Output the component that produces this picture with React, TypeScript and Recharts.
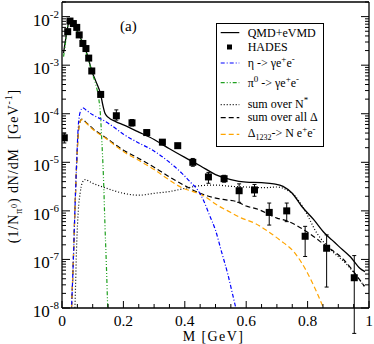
import { ComposedChart, Line, Scatter, ErrorBar, XAxis, YAxis, Legend } from "recharts";

const serif = "Liberation Serif, Times New Roman, serif";

// HADES points
const hadesMass = [0.0075, 0.0186, 0.026, 0.037, 0.048, 0.056, 0.068, 0.078, 0.087, 0.097, 0.126, 0.177, 0.228, 0.276, 0.327, 0.377, 0.426, 0.477, 0.528, 0.577, 0.627, 0.675, 0.732, 0.792, 0.862, 0.952];
const hadesYield = [3.2e-5, 4.9e-3, 8.1e-3, 7.2e-3, 6.0e-3, 4.2e-3, 2.8e-3, 2.2e-3, 1.4e-3, 7.6e-4, 2.5e-4, 9.1e-5, 6.5e-5, 4.1e-5, 2.6e-5, 2.2e-5, 1.0e-5, 5.0e-6, 4.6e-6, 2.6e-6, 2.7e-6, 9.3e-7, 1.0e-6, 3.0e-7, 1.7e-7, 4.2e-8];
const hadesHigh = [4.0e-5, 5.2e-3, 8.6e-3, 7.6e-3, 6.3e-3, 4.4e-3, 2.95e-3, 2.3e-3, 1.5e-3, 8.1e-4, 2.8e-4, 1.2e-4, 7.6e-5, 4.6e-5, 2.9e-5, 2.45e-5, 1.2e-5, 6.2e-6, 5.4e-6, 3.6e-6, 3.5e-6, 1.45e-6, 1.45e-6, 4.8e-7, 3.2e-7, 1.2e-7];
const hadesLow = [2.5e-5, 4.6e-3, 7.6e-3, 6.8e-3, 5.7e-3, 4.0e-3, 2.65e-3, 2.1e-3, 1.3e-3, 7.1e-4, 2.25e-4, 7.4e-5, 5.6e-5, 3.7e-5, 2.3e-5, 1.95e-5, 8.3e-6, 3.7e-6, 3.9e-6, 1.5e-6, 2.0e-6, 5.1e-7, 6.0e-7, 1.15e-7, 2.7e-8, 3.0e-9];

// QMD+eVMD total
const qmdMass = [0.005, 0.015, 0.022, 0.027, 0.035, 0.045, 0.055, 0.065, 0.075, 0.085, 0.097, 0.11, 0.126, 0.133, 0.14, 0.15, 0.175, 0.2, 0.25, 0.3, 0.35, 0.4, 0.45, 0.5, 0.55, 0.6, 0.65, 0.69, 0.72, 0.75, 0.78, 0.82, 0.855, 0.88, 0.9, 0.94, 0.97, 0.987];
const qmdYield = [1.78e-3, 4.47e-3, 7.6e-3, 8.1e-3, 7.2e-3, 6.0e-3, 4.2e-3, 3.2e-3, 2.24e-3, 1.45e-3, 7.6e-4, 4.7e-4, 2.5e-4, 1.5e-4, 1.02e-4, 8.5e-5, 6.9e-5, 5.9e-5, 4.2e-5, 2.95e-5, 1.9e-5, 1.26e-5, 8.5e-6, 5.6e-6, 4.4e-6, 3.9e-6, 3.8e-6, 3.6e-6, 3.2e-6, 2.3e-6, 1.26e-6, 6.6e-7, 3.5e-7, 2.5e-7, 1.9e-7, 1.12e-7, 6.6e-8, 5.6e-8];

// eta -> gamma e+ e-
const etaMass = [0.029, 0.031, 0.037, 0.042, 0.048, 0.053, 0.06, 0.068, 0.08, 0.1, 0.13, 0.16, 0.2, 0.25, 0.29, 0.35, 0.39, 0.42, 0.44, 0.46, 0.48, 0.5, 0.52, 0.54, 0.555, 0.568];
const etaYield = [5e-9, 1e-8, 1e-7, 1e-6, 1.12e-5, 5.5e-5, 1.12e-4, 1.32e-4, 1.17e-4, 9.5e-5, 7.6e-5, 5.8e-5, 3.8e-5, 2.5e-5, 1.86e-5, 1.0e-5, 6.0e-6, 3.8e-6, 2.8e-6, 1.7e-6, 8.3e-7, 4.0e-7, 1.41e-7, 5.0e-8, 2.0e-8, 8.9e-9];

// pi0 -> gamma e+ e-
const pi0Mass = [0.005, 0.01, 0.015, 0.022, 0.027, 0.035, 0.045, 0.055, 0.065, 0.075, 0.085, 0.097, 0.11, 0.12, 0.125, 0.129, 0.135, 0.14, 0.145, 0.149, 0.151];
const pi0Yield = [1.5e-3, 2.5e-3, 4.5e-3, 7.4e-3, 7.9e-3, 7.1e-3, 5.9e-3, 4.1e-3, 3.0e-3, 2.1e-3, 1.38e-3, 7.2e-4, 4.0e-4, 2.0e-4, 1.0e-4, 3.4e-5, 5.0e-6, 5.0e-7, 6.3e-8, 1.0e-8, 5.0e-9];

// sum over N*
const nstarMass = [0.04, 0.042, 0.048, 0.053, 0.059, 0.066, 0.075, 0.1, 0.14, 0.2, 0.25, 0.3, 0.35, 0.4, 0.45, 0.5, 0.55, 0.6, 0.66, 0.7, 0.73, 0.76, 0.79, 0.83, 0.875, 0.93, 0.96, 0.985];
const nstarYield = [5e-9, 1e-8, 2.2e-7, 1.0e-6, 2.3e-6, 3.8e-6, 4.4e-6, 3.7e-6, 3.0e-6, 2.3e-6, 2.1e-6, 2.3e-6, 2.5e-6, 2.9e-6, 3.3e-6, 3.4e-6, 3.2e-6, 3.1e-6, 3.0e-6, 3.1e-6, 2.75e-6, 2.0e-6, 1.05e-6, 3.5e-7, 1.6e-7, 7.6e-8, 4.5e-8, 2.8e-8];

// sum over all Delta
const deltaAllMass = [0.029, 0.031, 0.037, 0.042, 0.048, 0.053, 0.06, 0.065, 0.08, 0.1, 0.14, 0.2, 0.25, 0.3, 0.35, 0.4, 0.45, 0.49, 0.53, 0.565, 0.6, 0.64, 0.7, 0.73, 0.79, 0.855, 0.92, 0.97, 0.985];
const deltaAllYield = [5e-9, 1e-8, 1e-7, 1e-6, 1.0e-5, 4.0e-5, 7.2e-5, 7.8e-5, 6.5e-5, 5.0e-5, 3.3e-5, 1.78e-5, 1.2e-5, 7.9e-6, 5.0e-6, 3.3e-6, 2.3e-6, 1.9e-6, 1.7e-6, 1.58e-6, 1.26e-6, 1.07e-6, 7.1e-7, 6.3e-7, 4.0e-7, 2.0e-7, 9.5e-8, 3.8e-8, 2.8e-8];

// Delta(1232) -> N e+ e-
const delta1232Mass = [0.029, 0.031, 0.037, 0.042, 0.048, 0.053, 0.06, 0.065, 0.08, 0.1, 0.14, 0.2, 0.25, 0.3, 0.35, 0.39, 0.435, 0.47, 0.5, 0.54, 0.585, 0.63, 0.67, 0.71, 0.76, 0.8, 0.83, 0.855];
const delta1232Yield = [5e-9, 1e-8, 1e-7, 1e-6, 1.0e-5, 4.0e-5, 7.1e-5, 7.6e-5, 6.3e-5, 4.8e-5, 3.2e-5, 1.66e-5, 1.1e-5, 7.1e-6, 4.3e-6, 3.0e-6, 2.4e-6, 1.9e-6, 1.38e-6, 1.0e-6, 7.1e-7, 5.5e-7, 3.8e-7, 2.5e-7, 1.32e-7, 5.2e-8, 2.1e-8, 8.9e-9];

const xTicks = [0, 0.05, 0.1, 0.15, 0.2, 0.25, 0.3, 0.35, 0.4, 0.45, 0.5, 0.55, 0.6, 0.65, 0.7, 0.75, 0.8, 0.85, 0.9, 0.95, 1];
const yDecades = [1e-8, 1e-7, 1e-6, 1e-5, 1e-4, 1e-3, 1e-2];
const yMax = 0.02;

const yTicks: number[] = [];
yDecades.forEach((d) => {
  [1, 2, 3, 4, 5, 6, 7, 8, 9].forEach((m) => {
    if (m * d <= yMax * 1.0001) yTicks.push(m * d);
  });
});

const toPoints = (xs: number[], ys: number[]) => xs.map((x, i) => ({ x, y: ys[i] }));
const hadesData = hadesMass.map((x, i) => ({
  x,
  y: hadesYield[i],
  err: [hadesYield[i] - hadesLow[i], hadesHigh[i] - hadesYield[i]],
}));

const isDecade = (v: number) => Math.abs(Math.log10(v) - Math.round(Math.log10(v))) < 1e-6;
const isMajorX = (v: number) => Math.abs(v * 5 - Math.round(v * 5)) < 1e-6;

function LeftTick({ x, y, payload }: any) {
  const v = payload.value;
  const major = isDecade(v);
  return (
    <g>
      <line x1={x} x2={x + (major ? 8 : 4)} y1={y} y2={y} stroke="#000" />
      {major && (
        <text x={x - 3} y={y + 9} textAnchor="end" fontFamily={serif} fontSize={17} fill="#000">
          10<tspan dy={-8} fontSize={11}>{Math.round(Math.log10(v))}</tspan>
        </text>
      )}
    </g>
  );
}

function RightTick({ x, y, payload }: any) {
  const major = isDecade(payload.value);
  return <line x1={x} x2={x - (major ? 8 : 4)} y1={y} y2={y} stroke="#000" />;
}

function BottomTick({ x, y, payload }: any) {
  const v = payload.value;
  const major = isMajorX(v);
  return (
    <g>
      <line x1={x} x2={x} y1={y} y2={y - (major ? 7 : 4)} stroke="#000" />
      {major && (
        <text x={x} y={y + 17.5} textAnchor="middle" fontFamily={serif} fontSize={15.5} fill="#000">
          {v === 0 || v === 1 ? String(v) : v.toFixed(1)}
        </text>
      )}
    </g>
  );
}

function TopTick({ x, y, payload }: any) {
  const major = isMajorX(payload.value);
  return <line x1={x} x2={x} y1={y} y2={y + (major ? 7 : 4)} stroke="#000" />;
}

function XTitle({ viewBox }: any) {
  const { x, y, width } = viewBox;
  return (
    <text x={x + width / 2 - 2} y={y + 33} textAnchor="middle" fontFamily={serif} fontSize={14} letterSpacing={1.4} fill="#000">
      M [GeV]
    </text>
  );
}

function YTitle() {
  return (
    <text transform="translate(18,166) rotate(-90)" textAnchor="middle" fontFamily={serif} fontSize={14} letterSpacing={0.9} fill="#000">
      (1/N<tspan dy={4} fontSize={10}>π</tspan>
      <tspan dy={-5} fontSize={8}>0</tspan>
      <tspan dy={1}>) dN/dM{"\u00a0\u00a0"}[GeV</tspan>
      <tspan dy={-6} fontSize={10}>-1</tspan>
      <tspan dy={6}>]</tspan>
    </text>
  );
}

const legendRows = [
  { kind: "line", stroke: "#000", dash: undefined, lineY: 9.6, textY: 14 },
  { kind: "marker", stroke: "#000", dash: undefined, lineY: 24, textY: 28 },
  { kind: "line", stroke: "#0000ff", dash: "4 2 1 2", lineY: 40, textY: 43.5 },
  { kind: "line", stroke: "#1fa01f", dash: "4 2 1 2 1 2", lineY: 59.6, textY: 63.5 },
  { kind: "line", stroke: "#000", dash: "1 2", lineY: 81.6, textY: 85 },
  { kind: "line", stroke: "#000", dash: "5 3", lineY: 94.6, textY: 98 },
  { kind: "line", stroke: "#ffa500", dash: "5 3", lineY: 111.3, textY: 114 },
];

function LegendLabel({ i }: { i: number }) {
  const sup = { dy: -5, fontSize: 9 };
  switch (i) {
    case 0:
      return <>QMD+eVMD</>;
    case 1:
      return <>HADES</>;
    case 2:
      return (
        <>
          η -&gt; γe<tspan {...sup}>+</tspan>
          <tspan dy={5}>e</tspan>
          <tspan {...sup}>-</tspan>
        </>
      );
    case 3:
      return (
        <>
          π<tspan {...sup}>0</tspan>
          <tspan dy={5}> -&gt; γe</tspan>
          <tspan {...sup}>+</tspan>
          <tspan dy={5}>e</tspan>
          <tspan {...sup}>-</tspan>
        </>
      );
    case 4:
      return (
        <>
          sum over N<tspan {...sup}>*</tspan>
        </>
      );
    case 5:
      return <>sum over all Δ</>;
    default:
      return (
        <>
          Δ<tspan dy={3} fontSize={8}>1232</tspan>
          <tspan dy={-3}>-&gt; N e</tspan>
          <tspan {...sup}>+</tspan>
          <tspan dy={5}>e</tspan>
          <tspan {...sup}>-</tspan>
        </>
      );
  }
}

function LegendBox() {
  return (
    <svg width={108} height={124} style={{ display: "block" }}>
      <rect x={0.5} y={0.5} width={107} height={123} fill="#fff" stroke="#000" />
      {legendRows.map((r, i) => (
        <g key={i}>
          {r.kind === "line" ? (
            <line x1={4.7} x2={23.3} y1={r.lineY} y2={r.lineY} stroke={r.stroke} strokeWidth={1.2} strokeDasharray={r.dash} />
          ) : (
            <rect x={11} y={r.lineY - 2.5} width={5} height={5} fill="#000" />
          )}
          <text x={31.7} y={r.textY} fontFamily={serif} fontSize={12} fill="#000">
            <LegendLabel i={i} />
          </text>
        </g>
      ))}
    </svg>
  );
}

const Square = ({ cx, cy }: any) => <rect x={cx - 3.5} y={cy - 3.5} width={7} height={7} fill="#000" />;

export default function App() {
  return (
    <div style={{ position: "absolute", left: 0, top: 0, width: 374, height: 344, background: "#fff" }}>
      <ComposedChart width={374} height={344} margin={{ top: 0, right: 0, bottom: 0, left: 0 }}>
        <XAxis
          type="number"
          dataKey="x"
          domain={[0, 1]}
          allowDataOverflow
          ticks={xTicks}
          interval={0}
          height={36}
          tickSize={0}
          tickMargin={0}
          tick={<BottomTick />}
          axisLine={{ stroke: "#000", strokeWidth: 1.3 }}
          label={<XTitle />}
        />
        <XAxis
          xAxisId="top"
          orientation="top"
          type="number"
          domain={[0, 1]}
          allowDataOverflow
          ticks={xTicks}
          interval={0}
          height={2}
          tickSize={0}
          tickMargin={0}
          tick={<TopTick />}
          axisLine={{ stroke: "#000", strokeWidth: 1.3 }}
        />
        <YAxis
          type="number"
          scale="log"
          domain={[1e-8, yMax]}
          allowDataOverflow
          ticks={yTicks}
          interval={0}
          width={62}
          tickSize={0}
          tickMargin={0}
          tick={<LeftTick />}
          axisLine={{ stroke: "#000", strokeWidth: 1.3 }}
          label={<YTitle />}
        />
        <YAxis
          yAxisId="right"
          orientation="right"
          type="number"
          scale="log"
          domain={[1e-8, yMax]}
          allowDataOverflow
          ticks={yTicks}
          interval={0}
          width={5}
          tickSize={0}
          tickMargin={0}
          tick={<RightTick />}
          axisLine={{ stroke: "#000", strokeWidth: 1.3 }}
        />
        <Legend
          layout="vertical"
          align="center"
          verticalAlign="middle"
          wrapperStyle={{ left: 216, top: 23, width: 108, height: 124 }}
          content={<LegendBox />}
        />
        <Line data={toPoints(nstarMass, nstarYield)} dataKey="y" type="monotone" stroke="#000" strokeWidth={1.2} strokeDasharray="1 2" dot={false} isAnimationActive={false} />
        <Line data={toPoints(deltaAllMass, deltaAllYield)} dataKey="y" type="monotone" stroke="#000" strokeWidth={1.2} strokeDasharray="5 3" dot={false} isAnimationActive={false} />
        <Line data={toPoints(delta1232Mass, delta1232Yield)} dataKey="y" type="monotone" stroke="#ffa500" strokeWidth={1.2} strokeDasharray="5 3" dot={false} isAnimationActive={false} />
        <Line data={toPoints(etaMass, etaYield)} dataKey="y" type="monotone" stroke="#0000ff" strokeWidth={1.2} strokeDasharray="4 2 1 2" dot={false} isAnimationActive={false} />
        <Line data={toPoints(qmdMass, qmdYield)} dataKey="y" type="monotone" stroke="#000" strokeWidth={1.3} dot={false} isAnimationActive={false} />
        <Scatter data={hadesData} dataKey="y" shape={<Square />} isAnimationActive={false}>
          <ErrorBar dataKey="err" direction="y" width={2} stroke="#000" strokeWidth={1} />
        </Scatter>
        <Line data={toPoints(pi0Mass, pi0Yield)} dataKey="y" type="monotone" stroke="#1fa01f" strokeWidth={1.2} strokeDasharray="4 2 1 2 1 2" dot={false} isAnimationActive={false} />
      </ComposedChart>
      <div style={{ position: "absolute", left: 120, top: 19, fontFamily: serif, fontSize: 15, lineHeight: "15px" }}>(a)</div>
    </div>
  );
}
